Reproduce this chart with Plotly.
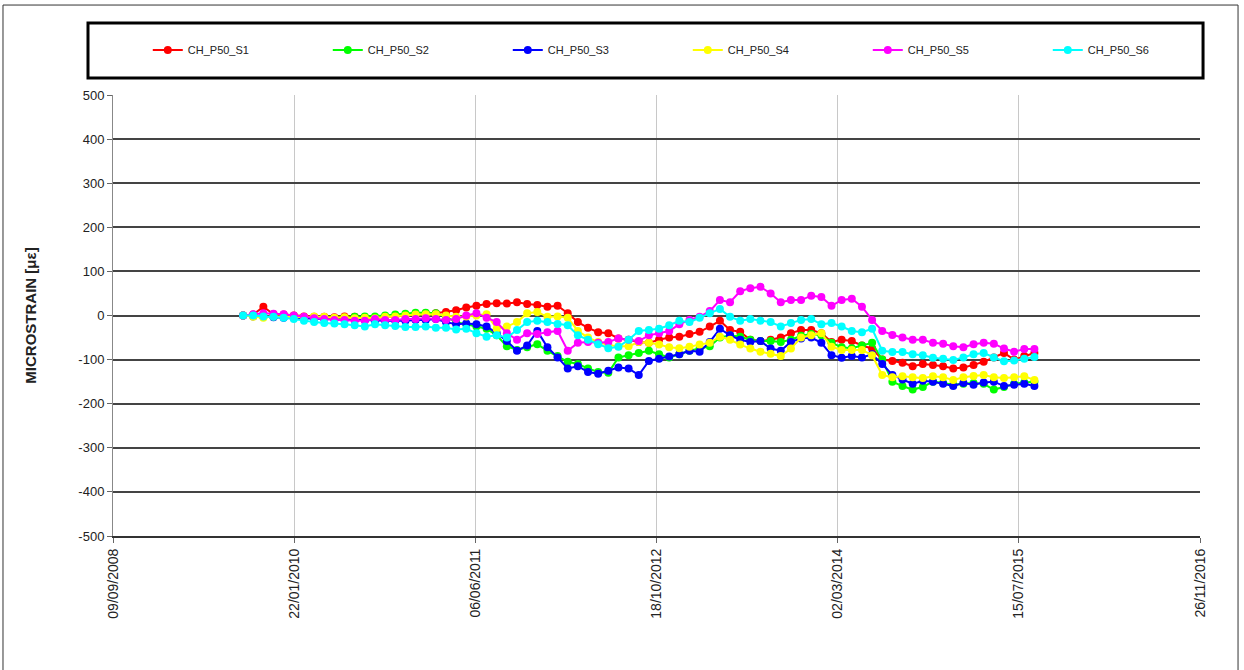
import pandas as pd
import plotly.graph_objects as go

# sampling dates (every 4 weeks)
dates = pd.date_range("2009-09-03", periods=79, freq="28D")

s1 = [0, 2, 20, 3, 2, 0, -2, -3, -3, -4, -2, -3, -4, -5, -3, -2, 0, 2, 5, 5,
      8, 12, 18, 22, 26, 28, 27, 30, 26, 24, 20, 22, 5, -15, -28, -38, -40, -52, -55, -60,
      -62, -55, -50, -48, -42, -37, -25, -12, -33, -37, -55, -58, -55, -50, -40, -33, -33, -40, -60, -55,
      -58, -68, -75, -100, -103, -107, -115, -110, -112, -115, -120, -118, -112, -105, -95, -85, -100, -92, -85]
s2 = [0, 0, -2, -3, -3, -2, -5, -6, -5, -6, -5, -3, -2, -2, 0, 2, 4, 6, 6, 5,
      -3, -15, -20, -25, -30, -45, -70, -78, -72, -65, -80, -92, -105, -110, -120, -128, -130, -95, -90, -85,
      -80, -88, -95, -88, -80, -75, -70, -50, -45, -48, -55, -58, -58, -60, -55, -46, -42, -45, -62, -72,
      -74, -68, -62, -100, -150, -160, -168, -162, -150, -153, -157, -155, -153, -155, -168, -162, -155, -152, -150]
s3 = [0, -2, -3, -4, -5, -5, -6, -7, -8, -8, -9, -10, -11, -12, -12, -12, -12, -10, -10, -8,
      -15, -20, -18, -20, -25, -40, -58, -80, -68, -35, -72, -95, -120, -115, -128, -132, -125, -118, -120, -135,
      -103, -98, -93, -88, -80, -82, -60, -30, -45, -55, -60, -58, -75, -80, -60, -52, -50, -62, -90, -96,
      -92, -95, -88, -110, -135, -145, -155, -148, -150, -155, -160, -153, -157, -152, -150, -160, -157, -155, -160]
s4 = [0, -3, -5, -2, -3, -3, -4, -2, -3, -5, -4, -6, -5, -6, -3, -2, 0, 2, 3, 3,
      0, -3, -2, 0, 3, -30, -25, -15, 5, 8, -3, -2, -5, -35, -50, -60, -67, -70, -70, -60,
      -62, -66, -72, -74, -71, -66, -62, -48, -55, -66, -75, -82, -87, -92, -75, -50, -45, -40, -71, -78,
      -78, -78, -90, -135, -140, -138, -140, -142, -138, -140, -146, -140, -137, -135, -140, -142, -140, -138, -146]
s5 = [0, 3, 5, 4, 3, 0, -3, -6, -8, -10, -10, -12, -12, -8, -10, -10, -8, -8, -6, -8,
      -10, -8, 0, 5, -5, -15, -40, -55, -40, -42, -38, -35, -80, -62, -60, -62, -60, -52, -55, -58,
      -45, -40, -35, -20, -10, -3, 10, 35, 30, 55, 62, 65, 50, 30, 35, 35, 45, 42, 22, 35,
      38, 20, -10, -35, -44, -50, -55, -55, -62, -64, -70, -72, -65, -62, -64, -75, -82, -76, -76]
s6 = [0, 0, -2, -3, -5, -8, -12, -15, -17, -18, -20, -22, -25, -20, -22, -24, -26, -26, -25, -28,
      -28, -32, -30, -40, -48, -45, -50, -33, -15, -12, -15, -19, -22, -45, -55, -65, -74, -71, -55, -35,
      -33, -30, -22, -12, -15, -5, 5, 15, -3, -12, -8, -12, -15, -25, -17, -10, -8, -20, -17, -25,
      -35, -38, -30, -80, -83, -83, -88, -90, -96, -98, -101, -95, -88, -85, -95, -104, -102, -98, -94]

names = ["CH_P50_S1", "CH_P50_S2", "CH_P50_S3", "CH_P50_S4", "CH_P50_S5", "CH_P50_S6"]
colors = ["#ff0000", "#00ff00", "#0000ff", "#ffff00", "#ff00ff", "#00ffff"]
yticks = [-500, -400, -300, -200, -100, 0, 100, 200, 300, 400, 500]

fig = go.Figure()
for name, vals, col in zip(names, [s1, s2, s3, s4, s5, s6], colors):
    fig.add_trace(go.Scatter(x=dates, y=vals, name=name, mode="lines+markers",
                             line=dict(color=col, width=2),
                             marker=dict(color=col, size=8)))

fig.update_layout(
    width=1244, height=670,
    margin=dict(l=113, r=44, t=95, b=134),
    paper_bgcolor="white", plot_bgcolor="white",
    font=dict(family="Liberation Sans, Arial", size=13, color="#222"),
    legend=dict(orientation="h", x=0.032, y=1.102, xanchor="left", yanchor="middle",
                entrywidth=135, entrywidthmode="pixels", font=dict(size=11),
                bgcolor="rgba(0,0,0,0)"),
    shapes=[
        dict(type="rect", xref="paper", yref="paper", x0=-0.1012, x1=1.035, y0=-0.32, y1=1.204,
             line=dict(color="#333", width=1)),
        dict(type="rect", xref="paper", yref="paper", x0=-0.023, x1=1.0028, y0=1.0385, y1=1.163,
             line=dict(color="black", width=3)),
    ],
)

fig.update_xaxes(type="date", range=["2008-09-09", "2016-11-26"],
                 tick0="2008-09-09", dtick=500 * 86400000, tickformat="%d/%m/%Y",
                 tickangle=-90, tickfont=dict(size=14), showgrid=True, gridcolor="#c8c8c8", gridwidth=1,
                 ticks="outside", ticklen=5, tickcolor="#666",
                 showline=True, linecolor="#333", linewidth=2, zeroline=False)
fig.update_yaxes(range=[-500, 500], tickvals=yticks, ticktext=[str(v) for v in yticks],
                 showgrid=True, gridcolor="#444", gridwidth=1.5,
                 ticks="outside", ticklen=5, tickcolor="#666",
                 showline=True, linecolor="#888", linewidth=1, zeroline=False,
                 title=dict(text="<b>MICROSTRAIN [με]</b>", font=dict(size=15), standoff=38))

# drop the default body margin so the figure sits at the page corner
fig.write_html("out.html", config={"displayModeBar": False},
               post_script="document.body.style.margin='0px';")
